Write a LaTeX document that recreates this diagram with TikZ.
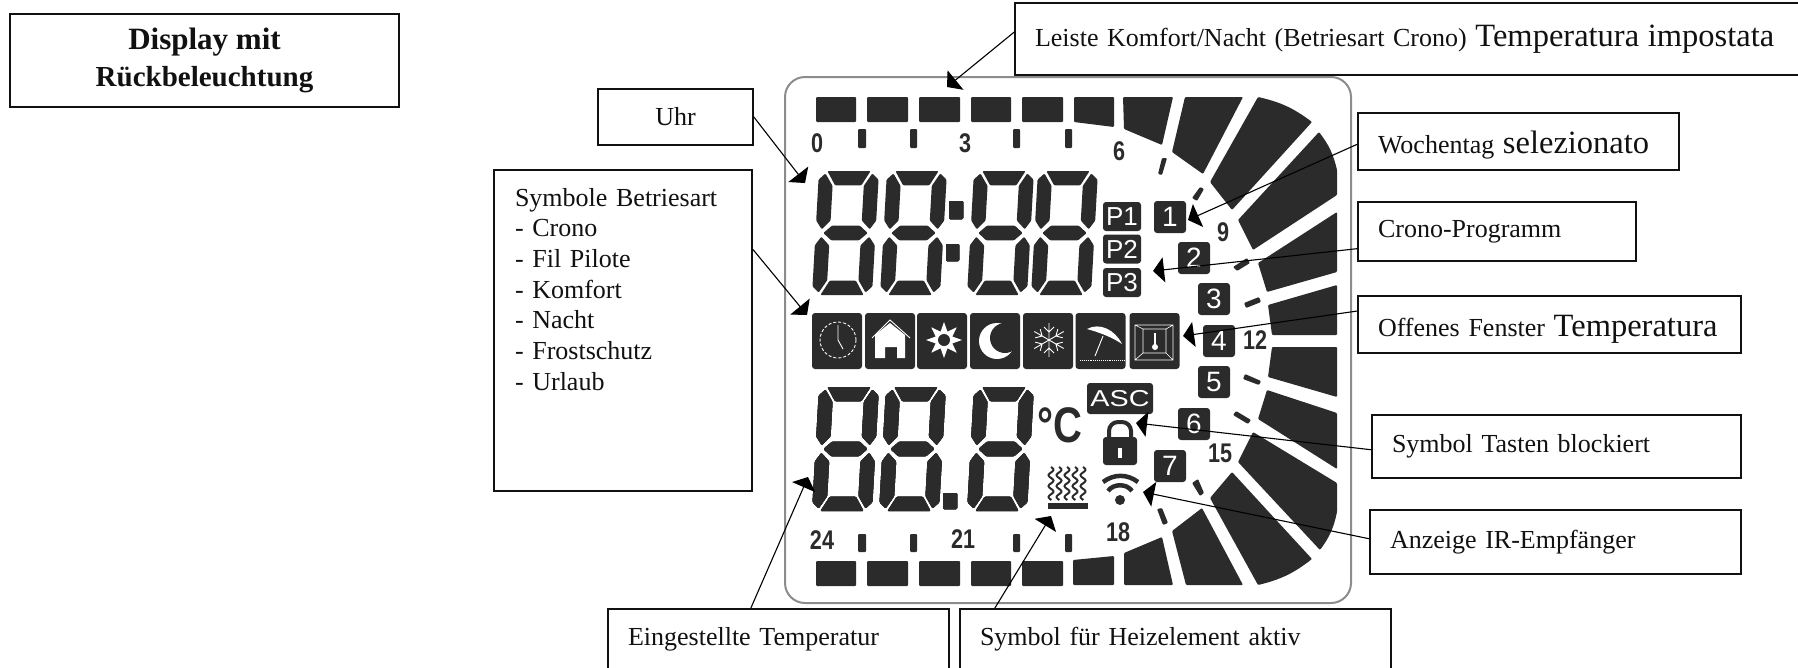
\documentclass[tikz,border=0pt]{standalone}
\usepackage{fontspec}
\setmainfont{Liberation Serif}
\setsansfont{Liberation Sans}
\newfontfamily\numfont[FakeStretch=.8]{Liberation Sans}
\newfontfamily\widefont[FakeStretch=1.25]{Liberation Sans}
\usetikzlibrary{arrows.meta,shapes.geometric}
\definecolor{Ink}{HTML}{111111}
\definecolor{Lcd}{HTML}{2B2B2B}
\definecolor{Rim}{HTML}{8C8C8C}
\newcommand{\bigtxt}{\fontsize{32.5}{32.5}\selectfont}
\tikzset{
  box/.style={draw=Ink,fill=white,line width=1.7pt,font=\fontsize{26}{30.7}\selectfont,text=Ink,inner ysep=0pt},
  lbox/.style 2 args={box,text width=#1,minimum height=#2,inner xsep=20pt,align=left},
  seg/.style={fill=Lcd,rounded corners=1pt},
  arr/.style={-{Triangle[length=11pt,width=25pt]},draw=black,line width=1.1pt},
  daybox/.style={fill=Lcd,rounded corners=3pt,minimum size=32pt,inner sep=0pt,text=white,font=\fontsize{28}{28}\sffamily},
  pbox/.style={fill=Lcd,rounded corners=3pt,minimum width=38pt,minimum height=29pt,inner sep=0pt,text=white,font=\fontsize{26}{26}\sffamily},
  iconbox/.style={fill=Lcd,rounded corners=3pt,minimum width=50pt,minimum height=56pt,inner sep=0pt},
  scalenum/.style={text=Lcd,inner sep=0pt,font=\fontsize{27}{27}\numfont\bfseries},
  glyph/.style={draw=white,line width=0.9pt},
  heat/.style={draw=Lcd,line width=2pt}
}
\newcommand{\lcddigit}[2]{
  \begin{scope}[shift={(#1,#2)},x={(60pt,0pt)},y={(-7pt,-124pt)}]
    \fill[seg] (.14,0)--(.86,0)--(.72,.115)--(.28,.115)--cycle
      (.89,.02)--(1,.07)--(1,.40)--(.90,.47)--(.76,.40)--(.76,.12)--cycle
      (.11,.02)--(0,.07)--(0,.40)--(.10,.47)--(.24,.40)--(.24,.12)--cycle
      (.13,.5)--(.27,.44)--(.73,.44)--(.87,.5)--(.73,.56)--(.27,.56)--cycle
      (.10,.53)--(.24,.6)--(.24,.88)--(.11,.98)--(0,.93)--(0,.6)--cycle
      (.90,.53)--(.76,.6)--(.76,.88)--(.89,.98)--(1,.93)--(1,.6)--cycle
      (.28,.885)--(.72,.885)--(.86,1)--(.14,1)--cycle;
  \end{scope}
}
\begin{document}
\begin{tikzpicture}[x=1pt,y=-1pt]
  \useasboundingbox (0,0) rectangle (1798,667);
  \draw[Rim,line width=2pt,rounded corners=20pt] (785,77) rectangle (1351,603);

  \foreach \xa/\xb in {816/856,867/908,919/960,971/1011,1022/1063} {
    \fill[seg] (\xa,97) rectangle (\xb,122);
    \fill[seg] (\xa,561) rectangle (\xb,586);
  }
  \fill[seg] (1074,97)--(1114,97)--(1114,127)--(1074,122)--cycle
    (1123,97)--(1173,97)--(1162,145)--(1124,129)--cycle
    (1185,97)--(1243,97)--(1203,174)--(1172,152)--cycle
    (1258,97) to[bend left=12] (1312,122)--(1232,210)--(1210,182)--cycle
    (1319,132) to[bend left=12] (1337,170)--(1337,195)--(1253,250)--(1238,220)--cycle
    (1337,212)--(1337,272)--(1267,292)--(1258,263)--cycle
    (1337,285)--(1337,335)--(1272,335)--(1268,305)--cycle
    (1272,347)--(1337,347)--(1337,397)--(1268,377)--cycle
    (1267,390)--(1337,413)--(1337,469)--(1258,419)--cycle
    (1253,432)--(1337,483)--(1337,512) to[bend left=12] (1320,550)--(1238,462)--cycle
    (1232,472)--(1312,559) to[bend left=12] (1258,585)--(1210,498)--cycle
    (1202,508)--(1243,585)--(1186,585)--(1172,531)--cycle
    (1162,537)--(1173,585)--(1124,585)--(1124,553)--cycle
    (1114,556)--(1114,585)--(1073,585)--(1073,560)--cycle;

  \foreach \xa/\xb in {858/866,910/917,1013/1020,1065/1072} {
    \fill[seg] (\xa,129) rectangle (\xb,148);
    \fill[seg] (\xa,534) rectangle (\xb,552);
  }
  \fill[seg] (1162,158)--(1167,158)--(1162,175)--(1158,174)--cycle
    (1200,187)--(1204,189)--(1197,201)--(1192,198)--cycle
    (1247,258)--(1250,263)--(1237,271)--(1233,267)--cycle
    (1259,297)--(1261,302)--(1246,308)--(1244,303)--cycle
    (1245,374)--(1261,381)--(1259,385)--(1243,379)--cycle
    (1236,411)--(1251,420)--(1248,424)--(1233,415)--cycle
    (1198,479)--(1204,493)--(1200,496)--(1192,483)--cycle
    (1162,508)--(1168,523)--(1163,525)--(1157,509)--cycle;

  \foreach \t/\x/\y in {0/817/143,3/965/143,6/1119/151,9/1223/232,12/1255/340,15/1220/453,18/1118/532,21/963/539,24/822/540}
    \node[scalenum] (num\t) at (\x,\y) {\t};

  \foreach \x in {819,887,974,1038} \lcddigit{\x}{171}
  \foreach \x in {819,886,974} \lcddigit{\x}{387}
  \fill[seg] (949,201) rectangle (963,219) (946,244) rectangle (959,261) (943,493) rectangle (957,509);

  \foreach \t/\y in {P1/216.5,P2/249,P3/282.5}
    \node[pbox] (\t) at (1122,\y) {\t};
  \foreach \t/\x/\y in {1/1170/217,2/1194/258,3/1214/299,4/1219/341,5/1214/382,6/1194/424,7/1170/466}
    \node[daybox] (day\t) at (\x,\y) {\t};

  \foreach \n/\x in {clock/837,house/890,sun/942,moon/995,frost/1048,beach/1100.5,window/1154.5}
    \node[iconbox] (\n) at (\x,341) {};
  \draw[glyph,densely dashed] (838,340) circle (18pt);
  \draw[glyph] (838,325)--(838,340)--(843,349);
  \draw[glyph] (872,338)--(890,320)--(910,338);
  \fill[white] (875,335)--(890,323)--(905,335)--(905,358)--(897,358)--(897,347)--(885,347)--(885,358)--(875,358)--cycle;
  \node[star,star points=8,star point ratio=2,fill=white,minimum size=36pt,inner sep=0pt] (sunray) at (944,340) {};
  \fill[Lcd] (944,340) circle (6pt);
  \fill[white] (997,341) circle (18pt);
  \fill[Lcd] (1005,338) circle (15pt);
  \foreach \a in {30,90,150} {
    \begin{scope}[shift={(1049,340)},rotate=\a]
      \draw[glyph] (-17,0)--(17,0) (13,-5)--(8,0)--(13,5) (-13,-5)--(-8,0)--(-13,5);
    \end{scope}
  }
  \fill[white] (1087,329) .. controls (1100,322) and (1115,330) .. (1122,344) .. controls (1112,337) and (1098,332) .. (1087,329);
  \draw[glyph] (1103,336)--(1095,356);
  \draw[glyph,densely dotted] (1080,360)--(1124,360);
  \draw[glyph,line width=0.6pt] (1135,325)--(1173,325)--(1173,360)--(1135,360)--cycle
    (1143,329) rectangle (1166,353) (1135,325)--(1143,329) (1173,325)--(1166,329) (1135,360)--(1143,353) (1173,360)--(1166,353);
  \draw[white,line width=1.6pt] (1155,333)--(1155,345);
  \fill[white] (1155,347) circle (3pt);

  \node[fill=Lcd,rounded corners=3pt,minimum width=66pt,minimum height=31pt,inner sep=0pt,text=white,font=\fontsize{23}{23}\widefont] (asc) at (1120,398.5) {ASC};
  \node[text=Lcd,inner sep=0pt,font=\fontsize{50}{50}\numfont\bfseries] (grad) at (1060,425) {°C};
  \fill[seg,rounded corners=3pt] (1103,437) rectangle (1137,465);
  \draw[Lcd,line width=4pt,rounded corners=9pt] (1109,440)--(1109,422)--(1131,422)--(1131,440);
  \fill[white] (1118,448) rectangle (1122,458);
  \draw[Lcd,line width=4.5pt] (1103,482) to[bend left=37] (1138,482);
  \draw[Lcd,line width=4.5pt] (1108,491) to[bend left=55] (1132,491);
  \fill[Lcd] (1120,500) circle (5pt);
  \foreach \h in {1051,1059,1067,1075,1083}
    \draw[heat] plot[domain=0:33,samples=30] ({\h+2.5*sin(\x*33)},{467+\x});
  \fill[Lcd] (1048,503) rectangle (1088,509);

  \node[box,minimum width=389pt,minimum height=93pt,align=center,font=\fontsize{31}{37}\selectfont\bfseries] (disp) at (204.5,60.5) {Display mit\\{\fontsize{29}{37}\selectfont Rückbeleuchtung}};
  \node[lbox={746pt}{72pt}] (leiste) at (1408,39) {Leiste Komfort/Nacht (Betriesart Crono) {\bigtxt Temperatura impostata}};
  \node[box,minimum width=155pt,minimum height=56pt] (uhr) at (675.5,117) {Uhr};
  \node[lbox={216pt}{321pt},inner xsep=21pt] (sym) at (623,330.5) {Symbole Betriesart\\- Crono\\- Fil Pilote\\- Komfort\\- Nacht\\- Frostschutz\\- Urlaub\\[52pt]~};
  \node[lbox={281pt}{57pt},text height=30pt] (woche) at (1518.5,141.5) {Wochentag {\bigtxt selezionato}};
  \node[lbox={238pt}{59pt}] (crono) at (1497,231.5) {Crono-Programm};
  \node[lbox={343pt}{57pt},text height=30pt] (offen) at (1549.5,324.5) {Offenes Fenster {\bigtxt Temperatura}};
  \node[lbox={329pt}{63pt}] (tast) at (1556.5,446.5) {Symbol Tasten blockiert};
  \node[lbox={331pt}{64pt}] (anz) at (1555.5,542) {Anzeige IR-Empfänger};
  \node[lbox={301pt}{62pt},text depth=8pt] (eing) at (778.5,640) {Eingestellte Temperatur};
  \node[lbox={391pt}{62pt},text depth=8pt] (heiz) at (1175.5,640) {Symbol für Heizelement aktiv};

  \coordinate (leistetip) at (947,87);
  \coordinate (uhrtip) at (805,183);
  \coordinate (symtip) at (807,315);
  \coordinate (wochetip) at (1188,220);
  \coordinate (cronotip) at (1153,271);
  \coordinate (offentip) at (1183,336);
  \coordinate (tasttip) at (1136,423);
  \coordinate (anztip) at (1143,492);
  \coordinate (eingtip) at (808,477);
  \coordinate (heiztip) at (1051,516);
  \draw[arr] (leiste.179) -- (leistetip);
  \draw[arr] (uhr.east) -- (uhrtip);
  \draw[arr] (sym.32) -- (symtip);
  \draw[arr] (woche.181) -- (wochetip);
  \draw[arr] (crono.187) -- (cronotip);
  \draw[arr] (offen.176) -- (offentip);
  \draw[arr] (tast.181) -- (tasttip);
  \draw[arr] (anz.179) -- (anztip);
  \draw[arr] (eing.131) -- (eingtip);
  \draw[arr] (heiz.170) -- (heiztip);
\end{tikzpicture}
\end{document}
